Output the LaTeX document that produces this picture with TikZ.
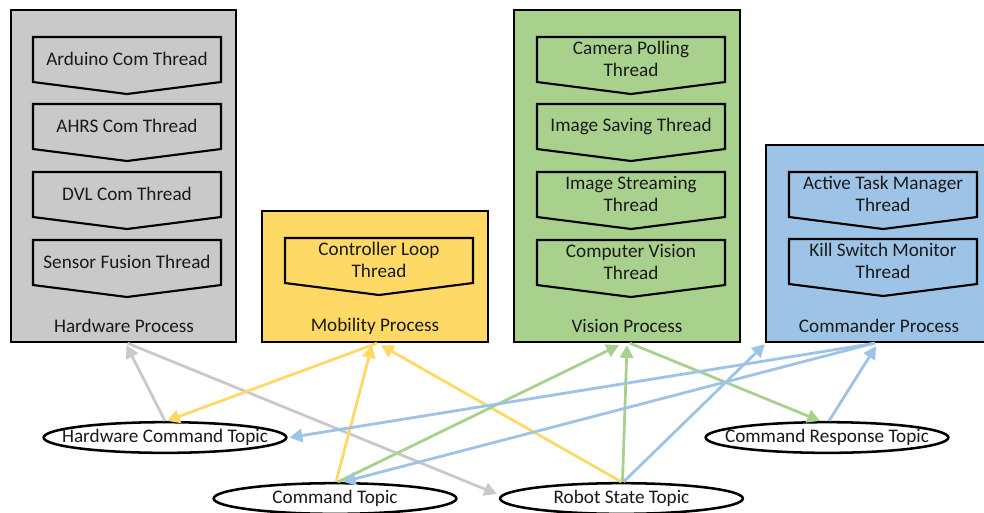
\documentclass[tikz,border=0pt]{standalone}
\usepackage{fontspec}
\setmainfont{Carlito}
\usetikzlibrary{shapes.geometric,arrows.meta,calc,fit}
\definecolor{hwgray}{HTML}{C9C9C9}
\definecolor{mobyel}{HTML}{FFD966}
\definecolor{visgrn}{HTML}{A9D18E}
\definecolor{cmdblu}{HTML}{9DC3E6}
\definecolor{txt}{HTML}{1A1A1A}
\tikzset{
  procbox/.style={draw=black, line width=1.8pt, inner sep=0pt},
  threadshape/.style={draw=black, line width=1.6pt, line join=miter},
  threadtext/.style={align=center, text=txt, font=\fontsize{14.4}{16.5}\selectfont, inner sep=0pt},
  proclabel/.style={text=txt, font=\fontsize{14.4}{16.5}\selectfont, inner sep=0pt},
  topic/.style={ellipse, draw=black, line width=1.9pt, fill=white, text=txt,
    minimum width=182pt, minimum height=23pt, inner sep=0pt, font=\fontsize{14.4}{16.5}\selectfont},
  conn/.style={line width=2.1pt, -{Triangle[length=9.5pt,width=10pt]}},
}
\newcommand{\thr}[4]{%
  \draw[threadshape] (#2,#3) -- ++(188,0) -- ++(0,45) -- ++(-94,12) -- ++(-94,-12) -- cycle;
  \node[threadtext] (#1) at (#2+94,#3+22) {#4};}
\newcommand{\tp}[1]{\makebox[0pt]{#1}}
\begin{document}
\begin{tikzpicture}[x=0.75pt,y=-0.75pt]
\clip (0,0) rectangle (984,512);
% process boxes
\node[procbox, fill=hwgray, fit={(11,10) (236,342)}] (hw) {};
\node[procbox, fill=mobyel, fit={(262,211) (488,342)}] (mob) {};
\node[procbox, fill=visgrn, fit={(514,10) (740,342)}] (vis) {};
\node[procbox, fill=cmdblu, fit={(766,145) (992,342)}] (cmd) {};
\node[proclabel] (hwl) at (124,326) {Hardware Process};
\node[proclabel] (mobl) at (375,326) {Mobility Process};
\node[proclabel] (visl) at (627,326) {Vision Process};
\node[proclabel] (cmdl) at (879,326) {Commander Process};
% threads
\thr{t1}{33}{37}{Arduino Com Thread}
\thr{t2}{33}{104}{AHRS Com Thread}
\thr{t3}{33}{172}{DVL Com Thread}
\thr{t4}{33}{240}{Sensor Fusion Thread}
\thr{t5}{285}{238}{Controller Loop\\Thread}
\thr{t6}{537}{37}{Camera Polling\\Thread}
\thr{t7}{537}{104}{Image Saving Thread}
\thr{t8}{537}{172}{Image Streaming\\Thread}
\thr{t9}{537}{240}{Computer Vision\\Thread}
\thr{t10}{789}{172}{Active Task Manager\\Thread}
\thr{t11}{789}{239}{Kill Switch Monitor\\Thread}
% topics
\node[topic] (hwc) at (165,437.5) {\tp{Hardware Command Topic}};
\node[topic] (ct) at (335,498.5) {\tp{Command Topic}};
\node[topic] (rst) at (621.5,498.5) {\tp{Robot State Topic}};
\node[topic] (crt) at (827,437.5) {\tp{Command Response Topic}};
% connectors
\draw[conn, draw=hwgray] (hwc.north) -- ($(hw.south)+(3,2)$);
\draw[conn, draw=hwgray] ($(hw.south)+(4,0)$) -- ($(rst.west)+(-2,-4.5)$);
\draw[conn, draw=mobyel] ($(mob.south)+(2,0)$) -- ($(hwc.north)+(2,0)$);
\draw[conn, draw=mobyel] ($(ct.north)+(1,0)$) -- ($(mob.south)+(-3,2)$);
\draw[conn, draw=mobyel] (rst.north) -- ($(mob.south)+(6,2)$);
\draw[conn, draw=visgrn] ($(ct.north)+(3,0)$) -- ($(vis.south)+(-8,2)$);
\draw[conn, draw=visgrn] ($(rst.north)+(1,0)$) -- ($(vis.south)+(0,2)$);
\draw[conn, draw=visgrn] ($(vis.south)+(3,0)$) -- ($(crt.north)+(-7,0)$);
\draw[conn, draw=cmdblu] ($(cmd.south)+(-4,0)$) -- ($(hwc.east)+(2,0)$);
\draw[conn, draw=cmdblu] ($(cmd.south)+(-5,0)$) -- ($(ct.north)+(8,0)$);
\draw[conn, draw=cmdblu] ($(rst.north)+(2,0)$) -- ($(cmd.south west)+(0,1)$);
\draw[conn, draw=cmdblu] ($(crt.north)+(2,0)$) -- ($(cmd.south)+(-3,3)$);
\end{tikzpicture}
\end{document}
